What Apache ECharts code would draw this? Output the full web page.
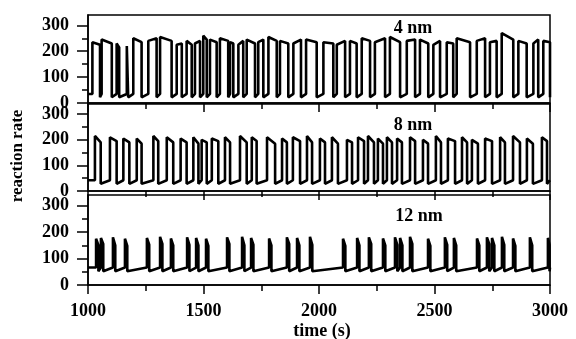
<!DOCTYPE html>
<html>
<head>
<meta charset="utf-8">
<script src="https://cdn.jsdelivr.net/npm/echarts@6/dist/echarts.min.js"></script>
<style>
  html, body { margin: 0; padding: 0; background: #fff; }
  #chart { width: 576px; height: 339px; }
</style>
</head>
<body>
<div id="chart"></div>
<script>
// x range and ticks (s)
const timeMin = 1000;
const timeMax = 3000;
const yMajor = [0, 100, 200, 300];
const yMinor = [50, 150, 250];
const panelNames = ['4 nm', '8 nm', '12 nm'];

// 4 nm: high-state intervals (rise / fall times), levels at rise and at fall
const rise4 = [1019, 1059, 1124, 1168, 1196, 1261, 1312, 1384, 1427, 1463, 1499, 1528, 1571, 1615, 1651, 1687, 1737, 1781, 1831, 1889, 1944, 2019, 2077, 2134, 2185, 2242, 2307, 2380, 2437, 2495, 2553, 2596, 2683, 2740, 2791, 2863, 2928, 2971];
const fall4 = [1052, 1103, 1135, 1174, 1232, 1297, 1362, 1406, 1449, 1485, 1514, 1557, 1607, 1629, 1672, 1723, 1759, 1817, 1867, 1922, 1990, 2062, 2113, 2163, 2221, 2286, 2351, 2416, 2473, 2524, 2581, 2654, 2719, 2769, 2841, 2899, 2949, 3000];
const top4 = [235, 245, 230, 220, 250, 240, 255, 225, 240, 230, 260, 245, 250, 235, 225, 245, 235, 255, 240, 230, 245, 235, 225, 240, 250, 235, 255, 240, 245, 225, 235, 250, 240, 235, 270, 240, 230, 240];
const end4 = [225, 230, 215, 225, 235, 250, 240, 230, 225, 240, 245, 235, 240, 230, 240, 230, 245, 240, 230, 245, 235, 230, 240, 230, 240, 250, 235, 245, 230, 240, 230, 235, 250, 240, 245, 230, 245, 235];
const base4 = [22, 35]; // low level just after a fall, just before a rise

// 8 nm
const rise8 = [1030, 1095, 1153, 1211, 1283, 1341, 1401, 1456, 1492, 1536, 1593, 1658, 1709, 1775, 1840, 1887, 1948, 2004, 2056, 2121, 2169, 2212, 2255, 2294, 2338, 2394, 2450, 2506, 2558, 2619, 2662, 2719, 2784, 2840, 2900, 2965];
const fall8 = [1055, 1124, 1179, 1232, 1304, 1369, 1427, 1478, 1514, 1564, 1615, 1687, 1730, 1810, 1861, 1918, 1970, 2026, 2082, 2143, 2195, 2238, 2277, 2316, 2359, 2416, 2472, 2528, 2589, 2641, 2688, 2749, 2805, 2870, 2926, 2987];
const top8 = [215, 210, 205, 205, 215, 210, 205, 210, 200, 205, 210, 215, 210, 210, 205, 210, 215, 205, 210, 200, 210, 215, 205, 210, 205, 210, 200, 215, 205, 210, 200, 205, 210, 215, 205, 210];
const end8 = [190, 195, 190, 185, 195, 190, 190, 185, 190, 195, 190, 190, 195, 185, 190, 195, 190, 190, 185, 190, 195, 190, 185, 190, 190, 195, 185, 190, 195, 190, 185, 195, 190, 190, 185, 195];
const base8 = [28, 42];

// 12 nm
const rise12 = [1035, 1056, 1108, 1160, 1255, 1312, 1359, 1429, 1468, 1511, 1602, 1667, 1706, 1784, 1861, 1905, 1961, 2104, 2165, 2216, 2277, 2329, 2351, 2394, 2472, 2545, 2584, 2684, 2727, 2749, 2792, 2840, 2913, 2991];
const fall12 = [1045, 1066, 1118, 1170, 1265, 1322, 1369, 1439, 1478, 1521, 1612, 1677, 1716, 1794, 1871, 1915, 1971, 2114, 2175, 2226, 2287, 2339, 2361, 2404, 2482, 2555, 2594, 2694, 2737, 2759, 2802, 2850, 2923, 2998];
const top12 = [175, 178, 180, 175, 178, 182, 176, 180, 178, 175, 180, 182, 178, 176, 180, 178, 182, 175, 178, 180, 176, 180, 178, 182, 175, 180, 178, 176, 180, 178, 182, 176, 180, 178];
const end12 = [150, 155, 150, 148, 152, 155, 150, 152, 150, 148, 155, 150, 152, 150, 155, 150, 152, 148, 150, 155, 150, 152, 150, 155, 148, 152, 150, 150, 155, 150, 152, 148, 150, 152];
const base12 = [52, 66];

function buildTrace(rise, fall, top, end, base) {
  const pts = [[timeMin, base[1]]];
  for (let i = 0; i < rise.length; i++) {
    pts.push([rise[i], base[1]], [rise[i], top[i]], [fall[i], end[i]], [fall[i], base[0]]);
  }
  if (fall[fall.length - 1] < timeMax) pts.push([timeMax, base[1]]);
  return pts;
}

const traces = [
  buildTrace(rise4, fall4, top4, end4, base4),
  buildTrace(rise8, fall8, top8, end8, base8),
  buildTrace(rise12, fall12, top12, end12, base12)
];

const font = 'Liberation Serif';
const grids = [
  { left: 88, right: 26, top: 15, height: 88 },
  { left: 88, right: 26, top: 104, height: 87 },
  { left: 88, right: 26, top: 195, height: 90 }
];
const titleY = [28, 125, 216];
const titleX = [413, 413, 419];

const chart = echarts.init(document.getElementById('chart'));

const xAxes = [], yAxes = [], series = [], graphics = [];
grids.forEach((g, i) => {
  xAxes.push({
    gridIndex: i, type: 'value', min: timeMin, max: timeMax, interval: 500,
    axisLine: { show: true, lineStyle: { color: '#000', width: 1.5 } },
    axisTick: { show: true, length: 9, lineStyle: { color: '#000', width: 1.5 } },
    minorTick: { show: true, splitNumber: 2, length: 6, lineStyle: { color: '#000', width: 1.5 } },
    splitLine: { show: false },
    axisLabel: {
      show: i === 2, margin: 17, color: '#000', formatter: v => String(v),
      fontFamily: font, fontWeight: 'bold', fontSize: 18
    }
  });
  yAxes.push({
    gridIndex: i, type: 'value', min: 0, max: 340,
    axisLine: { show: true, lineStyle: { color: '#000', width: 1.5 } },
    axisTick: { show: true, length: 11, customValues: yMajor, lineStyle: { color: '#000', width: 1.5 } },
    splitLine: { show: false },
    axisLabel: {
      customValues: yMajor, margin: 19, color: '#000',
      fontFamily: font, fontWeight: 'bold', fontSize: 18
    }
  });
  series.push({
    type: 'line', xAxisIndex: i, yAxisIndex: i * 2,
    data: traces[i], showSymbol: false, symbol: 'none',
    lineStyle: { color: '#000', width: 2.6 }
  });
  graphics.push({
    type: 'text', x: titleX[i], y: titleY[i],
    style: {
      text: panelNames[i], fill: '#000', align: 'center', verticalAlign: 'middle',
      font: 'bold 18px "Liberation Serif"'
    }
  });
});
// minor y ticks: second axis per grid
const allY = [];
grids.forEach((g, i) => {
  allY.push(yAxes[i]);
  allY.push({
    gridIndex: i, type: 'value', min: 0, max: 340, position: 'left',
    axisLine: { show: false },
    axisTick: { show: true, length: 6, customValues: yMinor, lineStyle: { color: '#000', width: 1.5 } },
    axisLabel: { show: false },
    splitLine: { show: false }
  });
});

graphics.push({
  type: 'text', x: 18, y: 156, rotation: Math.PI / 2,
  style: {
    text: 'reaction rate', fill: '#000', align: 'center', verticalAlign: 'middle',
    font: 'bold 17px "Liberation Serif"'
  }
});
graphics.push({
  type: 'text', x: 322, y: 331,
  style: {
    text: 'time (s)', fill: '#000', align: 'center', verticalAlign: 'middle',
    font: 'bold 18px "Liberation Serif"'
  }
});

chart.setOption({
  animation: false,
  backgroundColor: '#fff',
  grid: grids.map(g => Object.assign({ show: true, borderColor: '#000', borderWidth: 1.5, backgroundColor: 'transparent' }, g)),
  xAxis: xAxes,
  yAxis: allY,
  series: series,
  graphic: graphics
});
</script>
</body>
</html>
